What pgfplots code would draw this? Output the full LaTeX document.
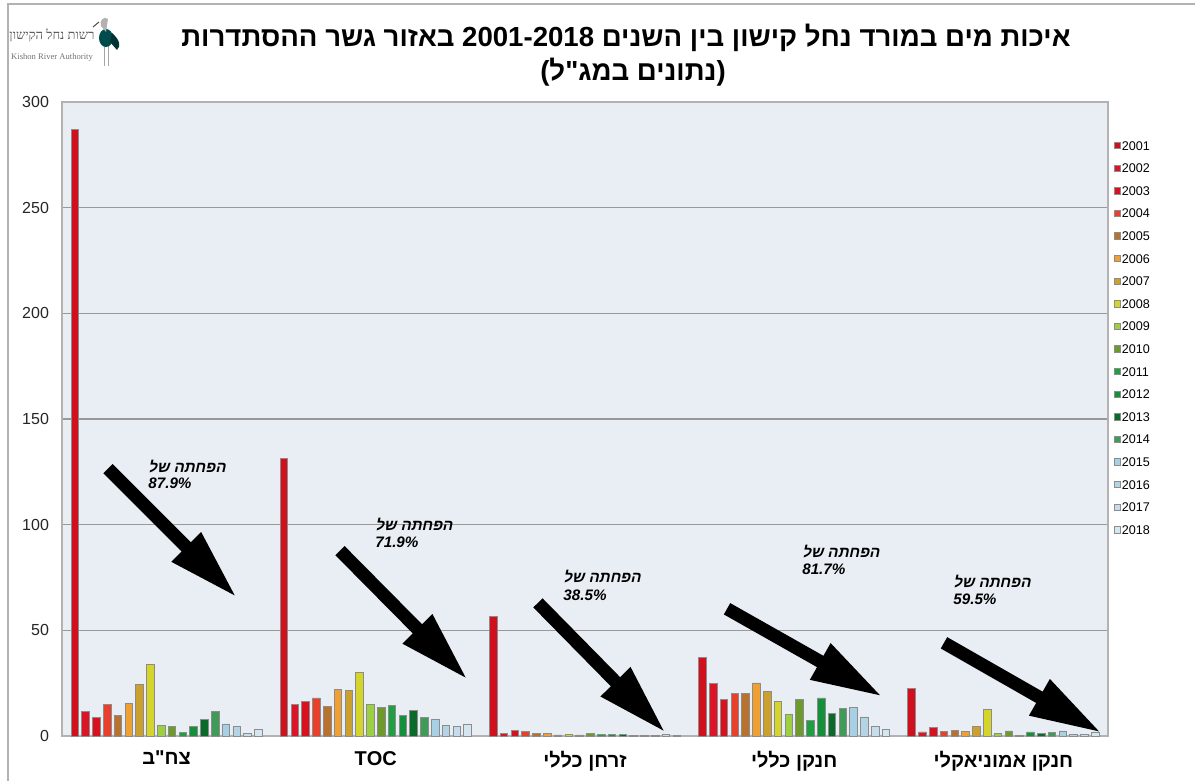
\documentclass[border=0pt]{standalone}
\usepackage{fontspec}
\usepackage{pgfplots}
\pgfplotsset{compat=1.18}
\usepackage{pgfplotstable}
\usetikzlibrary{arrows.meta}
\setmainfont{Liberation Sans}
\newfontfamily\hebfont[Script=Hebrew]{Liberation Sans}
\newfontfamily\hebserif[Script=Hebrew]{Liberation Serif}
\newfontfamily\hebit[Script=Hebrew,FakeSlant=0.22,UprightFont=* Bold]{Liberation Sans}
\TeXXeTstate=1

\definecolor{bgc}{RGB}{232,238,244}
\definecolor{c1}{HTML}{D0101C}
\definecolor{c2}{HTML}{DC1428}
\definecolor{c3}{HTML}{D81020}
\definecolor{c4}{HTML}{E8402A}
\definecolor{c5}{HTML}{B8722E}
\definecolor{c6}{HTML}{F0A030}
\definecolor{c7}{HTML}{CCA02C}
\definecolor{c8}{HTML}{D4D42A}
\definecolor{c9}{HTML}{9CD040}
\definecolor{c10}{HTML}{6E9A2C}
\definecolor{c11}{HTML}{1EA040}
\definecolor{c12}{HTML}{12903A}
\definecolor{c13}{HTML}{0A6A2A}
\definecolor{c14}{HTML}{409A58}
\definecolor{c15}{HTML}{A8D0E4}
\definecolor{c16}{HTML}{B4D4E6}
\definecolor{c17}{HTML}{C4DCEC}
\definecolor{c18}{HTML}{D4E6F0}

\pgfplotsset{sqlegend/.style={legend image code/.code={\draw[#1,line width=0.4pt] (0pt,-1.6pt) rectangle (3.2pt,1.6pt);}}}

\pgfplotstableread{
g s1 s2 s3 s4 s5 s6 s7 s8 s9 s10 s11 s12 s13 s14 s15 s16 s17 s18
0 287 11.5 8.7 15 9.6 15.2 24.6 34 5 4.4 1.6 4.4 8 11.5 5.7 4.7 1.3 3.3
1 131.5 14.9 16.3 18 13.9 22.1 21.5 29.9 14.8 13.4 14.4 9.6 12.3 8.9 7.9 4.9 4.6 5.5
2 56.5 1.3 2.5 2.3 1.1 1.3 0.5 0.8 0.5 1.0 0.6 0.8 0.6 0.4 0.3 0.3 0.8 0.2
3 37.3 25 17.1 20.2 20.2 25.1 20.9 16.4 10 17.2 7.4 18 10.7 12.9 13.4 9 4.4 3.2
4 22.6 1.9 4 2.2 2.8 2.2 4.7 12.6 1.4 2.4 0.2 1.9 1 1.6 2.4 0.8 0.8 1.9
}\datatable

\begin{document}
\begin{tikzpicture}
\useasboundingbox (0,0) rectangle (597.5pt,390.5pt);
\fill[white] (0,0) rectangle (597.5pt,390.5pt);
\begin{scope}[x=0.5pt,y=-0.5pt,yshift=390.5pt]
% frame
\draw[gray!60,line width=0.8pt] (8,781) -- (8,4) -- (1195,4);
% title
\node[font=\hebfont\bfseries\fontsize{13.8}{15}\selectfont] at (626,38)
  {\beginR איכות מים במורד נחל קישון בין השנים \beginL2001-2018\endL{} באזור גשר ההסתדרות\endR};
\node[font=\hebfont\bfseries\fontsize{13.8}{15}\selectfont] at (633,72)
  {{\rmfamily\bfseries(}\beginR נתונים במג"ל\endR{\rmfamily\bfseries)}};
% logo
\node[font=\hebserif\fontsize{6.5}{7}\selectfont,text=black!65] at (52,35) {\beginR רשות נחל הקישון\endR};
\node[font=\hebserif\fontsize{4.3}{5}\selectfont,text=black!55] at (52,57) {Kishon River Authority};
\draw[gray!70,line width=0.5pt] (104,46) -- (104,66) (108,46) -- (108,66);
\fill[teal!60!black] (106,38) ellipse (7 and 9);
\fill[gray!60] (101,26) .. controls (99,20) and (104,16) .. (108,19) -- (106,32) -- cycle;
\fill[teal!40!black] (112,33) .. controls (120,40) and (121,46) .. (117,50) -- (110,42) -- cycle;
\draw[black!70,line width=0.5pt] (99,22) -- (93,27);
\end{scope}

\begin{axis}[
  at={(31pt,22.5pt)}, anchor=south west,
  scale only axis, width=523pt, height=317pt,
  xmin=-0.5, xmax=4.5, ymin=0, ymax=300,
  ytick={0,50,...,300},
  xtick={0,1,2,3,4},
  xticklabels={{\beginR צח"ב\endR},TOC,{\beginR זרחן כללי\endR},{\beginR חנקן כללי\endR},{\beginR חנקן אמוניאקלי\endR}},
  xticklabel style={font=\hebfont\bfseries\fontsize{10}{12}\selectfont,yshift=-4pt},
  yticklabel style={font=\fontsize{8}{9}\selectfont,xshift=-3pt,text=black!85},
  /pgf/number format/assume math mode=true,
  major tick length=0pt,
  ymajorgrids, grid style={black!40,line width=0.8pt},
  axis background/.style={fill=bgc},
  axis line style={black!30,line width=0.6pt},
  ybar,
  clip=false,
  legend style={at={(1.005,0.942)},anchor=north west,draw=none,fill=none,
    font=\fontsize{6.3}{7}\selectfont,inner sep=0pt,row sep=4.8pt,
    nodes={inner sep=0.5pt,text height=5pt,text depth=0.5pt}},
  legend cell align=left,
  legend entries={2001,2002,2003,2004,2005,2006,2007,2008,2009,2010,2011,2012,2013,2014,2015,2016,2017,2018},
]
\pgfplotsinvokeforeach{1,...,18}{
  \addplot[fill=c#1,draw=black!45,line width=0.4pt,bar width=0.036,bar shift=0pt,sqlegend]
    table[x expr={\thisrow{g}+(#1-9.5)*0.0516},y=s#1] \datatable;
}
% arrows
\begin{scope}[line width=6.5pt,-{Triangle[length=36pt,width=19pt]}]
\draw (axis cs:-0.280,126.5) -- (axis cs:0.337,65.4);
\draw (axis cs:0.829,87.7) -- (axis cs:1.441,26.5);
\draw (axis cs:1.775,63.0) -- (axis cs:2.387,1.4);
\draw (axis cs:2.679,60.2) -- (axis cs:3.424,18.5);
\draw (axis cs:3.716,44.1) -- (axis cs:4.471,1.4);
\end{scope}
% annotations
\tikzset{hl/.style={anchor=west,inner sep=0pt,font=\hebit\fontsize{7.6}{9}\selectfont},
         pl/.style={anchor=west,inner sep=0pt,font=\bfseries\itshape\fontsize{7.6}{9}\selectfont}}
\node[hl] at (axis cs:-0.089,127.5) {\beginR הפחתה של\endR};
\node[pl] at (axis cs:-0.089,119.4) {87.9\%};
\node[hl] at (axis cs:0.996,100) {\beginR הפחתה של\endR};
\node[pl] at (axis cs:0.996,91.9) {71.9\%};
\node[hl] at (axis cs:1.895,75.4) {\beginR הפחתה של\endR};
\node[pl] at (axis cs:1.895,66.4) {38.5\%};
\node[hl] at (axis cs:3.037,87.2) {\beginR הפחתה של\endR};
\node[pl] at (axis cs:3.037,78.7) {81.7\%};
\node[hl] at (axis cs:3.759,73) {\beginR הפחתה של\endR};
\node[pl] at (axis cs:3.759,64.9) {59.5\%};
\end{axis}
\end{tikzpicture}
\end{document}
